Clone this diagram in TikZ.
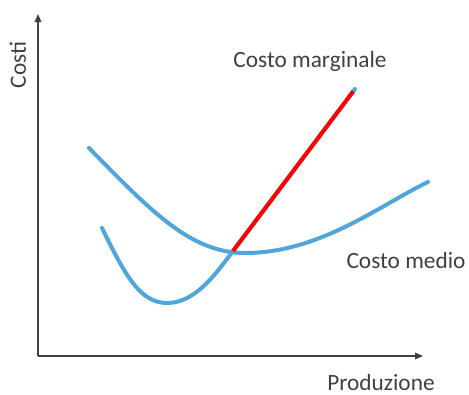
\documentclass[tikz,border=0pt]{standalone}
\usepackage{fontspec}
\setmainfont{Carlito}
\usepackage{tikz}
\usetikzlibrary{arrows.meta}
\usetikzlibrary{calc}
\usetikzlibrary{positioning}

\definecolor{costblue}{RGB}{80,165,218}
\definecolor{axisgray}{RGB}{64,64,64}

\begin{document}
\begin{tikzpicture}[
    x=0.75pt,y=-0.75pt,
    axisline/.style={draw=axisgray,line width=1pt,-{Triangle[length=6pt,width=5pt]}},
    costcurve/.style={draw=costblue,line width=3pt,line cap=round},
    margline/.style={draw=red,line width=3pt},
    labeltext/.style={text=axisgray,inner sep=0pt,font=\fontsize{17.5}{20}\selectfont}
    ]
    \useasboundingbox (0,0) rectangle (469,394);
    % axes
    \coordinate (origin) at (38,356);
    \coordinate (ytip) at (38,14);
    \coordinate (xtip) at (423,356);
    \draw[axisline] (origin) -- (ytip);
    \draw[axisline] (origin) -- (xtip);
    \node[labeltext,rotate=90] (costi) at (18,65) {Costi};
    \node[labeltext] (prod) at (381,382) {Produzione};
    % average cost
    \coordinate (avgstart) at (89,148);
    \coordinate (avgmin) at (245,253);
    \coordinate (avgend) at (428,182);
    \draw[costcurve] (avgstart) .. controls (150,210) and (190,253) .. (avgmin)
      .. controls (320,253) and (380,205) .. (avgend);
    % marginal cost
    \coordinate (mcstart) at (102,228);
    \coordinate (mcmin) at (167,303);
    \coordinate (cross) at (233,251);
    \coordinate (mcend) at (355,89);
    \draw[costcurve] (mcstart) .. controls (125,275) and (140,303) .. (mcmin)
      .. controls (195,303) and (215,275) .. (cross) -- (mcend);
    \draw[margline] (cross) -- ($(cross)!0.985!(mcend)$);
    % labels
    \node[labeltext] (marg) at (310,61) {Costo marginale};
    \node[labeltext] (medio) at (406,260) {Costo medio};
\end{tikzpicture}
\end{document}
